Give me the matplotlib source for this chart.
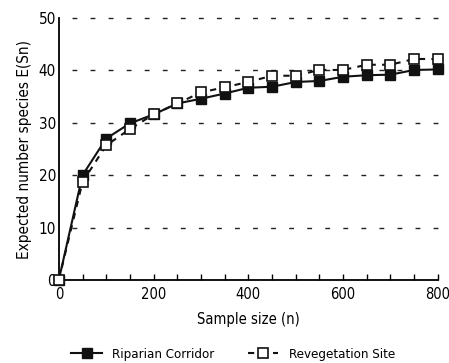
import matplotlib
matplotlib.use("Agg")
import matplotlib.pyplot as plt

sample_size = [0, 50, 100, 150, 200, 250, 300, 350, 400, 450, 500, 550, 600, 650, 700, 750, 800]
riparian = [0, 20.0, 27.0, 29.9, 31.6, 33.7, 34.6, 35.6, 36.7, 36.9, 37.8, 38.0, 38.8, 39.1, 39.2, 40.1, 40.2]
revegetation = [0, 18.7, 25.7, 28.8, 31.6, 33.7, 35.8, 36.8, 37.8, 39.0, 39.0, 40.1, 40.1, 41.1, 41.1, 42.2, 42.2]
x_ticks = [0, 200, 400, 600, 800]
y_ticks = [0, 10, 20, 30, 40, 50]

plt.rcParams['font.family'] = ['DejaVu Sans']
plt.rcParams['font.stretch'] = 'condensed'

fig = plt.figure(figsize=(4.49, 3.63), dpi=100)
ax = fig.add_axes([0.131, 0.229, 0.844, 0.721])

for yv in y_ticks[1:]:
    ax.plot([28, 800], [yv, yv], color='#222222', lw=1.0, ls=(0, (3.5, 9.5)), zorder=1, clip_on=False)

ax.plot(sample_size, riparian, color='#111111', lw=1.5, marker='s', ms=7,
        mfc='#111111', mec='#111111', label='Riparian Corridor', zorder=3, clip_on=False)
ax.plot(sample_size, revegetation, color='#111111', lw=1.5, ls=(0, (3, 3)), marker='s', ms=7,
        mfc='white', mec='#111111', mew=1.2, label='Revegetation Site', zorder=4, clip_on=False)

ax.set_xlim(0, 800)
ax.set_ylim(0, 50)
ax.set_xticks(x_ticks)
ax.set_xticks(sample_size, minor=True)
ax.set_yticks(y_ticks)
ax.tick_params(axis='x', which='both', direction='in', length=4, width=1, labelsize=10.5, pad=5)
ax.tick_params(axis='y', which='both', length=0, labelsize=11, pad=2)
for s in ['top', 'right']:
    ax.spines[s].set_visible(False)
for s in ['left', 'bottom']:
    ax.spines[s].set_linewidth(1.3)
ax.set_xlabel('Sample size (n)', fontsize=10.5, labelpad=7)
ax.set_ylabel('Expected number species E(Sn)', fontsize=11, labelpad=5)

ax.legend(loc='upper center', bbox_to_anchor=(0.46, -0.24), ncol=2, frameon=False,
          fontsize=9.5, handlelength=2.3, columnspacing=2.5, borderaxespad=0)

fig.savefig('out.png', dpi=100)
